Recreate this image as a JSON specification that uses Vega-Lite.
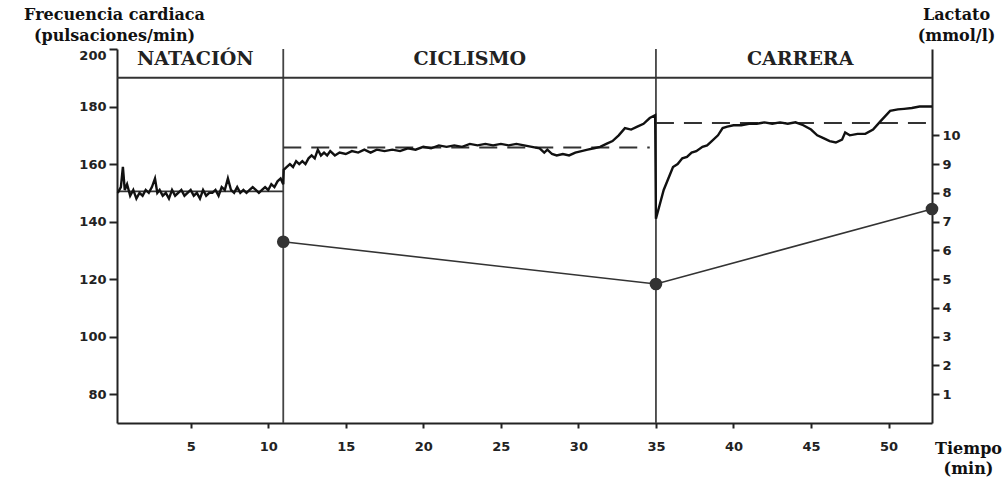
{
  "$schema": "https://vega.github.io/schema/vega-lite/v6.json",
  "width": 815,
  "height": 374,
  "autosize": {"type": "none"},
  "padding": {"left": 117, "top": 49, "right": 71, "bottom": 54},
  "background": "white",
  "config": {
    "view": {"stroke": null},
    "axis": {
      "grid": false,
      "domainColor": "#222",
      "domainWidth": 2,
      "tickColor": "#222",
      "tickWidth": 2,
      "labelFont": "DejaVu Sans",
      "labelFontWeight": "bold",
      "labelFontSize": 13,
      "labelColor": "#222",
      "titleFont": "DejaVu Serif",
      "titleFontWeight": "bold",
      "titleFontSize": 16,
      "titleColor": "#111"
    }
  },
  "datasets": {
    "hr": [
      {"min": 0.3, "bpm": 150}, {"min": 0.5, "bpm": 152}, {"min": 0.63, "bpm": 159}, {"min": 0.75, "bpm": 151},
      {"min": 0.9, "bpm": 153}, {"min": 1.1, "bpm": 149}, {"min": 1.3, "bpm": 151}, {"min": 1.5, "bpm": 148},
      {"min": 1.7, "bpm": 150}, {"min": 1.9, "bpm": 149}, {"min": 2.1, "bpm": 151}, {"min": 2.3, "bpm": 150},
      {"min": 2.5, "bpm": 152}, {"min": 2.7, "bpm": 155}, {"min": 2.85, "bpm": 150}, {"min": 3.0, "bpm": 151},
      {"min": 3.2, "bpm": 149}, {"min": 3.4, "bpm": 150}, {"min": 3.6, "bpm": 148}, {"min": 3.8, "bpm": 151},
      {"min": 4.0, "bpm": 149}, {"min": 4.2, "bpm": 150}, {"min": 4.4, "bpm": 151}, {"min": 4.6, "bpm": 149},
      {"min": 4.8, "bpm": 150}, {"min": 5.0, "bpm": 151}, {"min": 5.2, "bpm": 149}, {"min": 5.4, "bpm": 150},
      {"min": 5.6, "bpm": 148}, {"min": 5.8, "bpm": 151}, {"min": 6.0, "bpm": 149}, {"min": 6.2, "bpm": 150},
      {"min": 6.4, "bpm": 150}, {"min": 6.6, "bpm": 151}, {"min": 6.8, "bpm": 149}, {"min": 7.0, "bpm": 152},
      {"min": 7.2, "bpm": 151}, {"min": 7.4, "bpm": 155}, {"min": 7.6, "bpm": 151}, {"min": 7.8, "bpm": 150},
      {"min": 8.0, "bpm": 152}, {"min": 8.2, "bpm": 150}, {"min": 8.4, "bpm": 151}, {"min": 8.6, "bpm": 150},
      {"min": 8.8, "bpm": 151}, {"min": 9.0, "bpm": 152}, {"min": 9.2, "bpm": 151}, {"min": 9.4, "bpm": 150},
      {"min": 9.6, "bpm": 151}, {"min": 9.8, "bpm": 152}, {"min": 10.0, "bpm": 151}, {"min": 10.2, "bpm": 153},
      {"min": 10.4, "bpm": 152}, {"min": 10.6, "bpm": 154}, {"min": 10.8, "bpm": 155}, {"min": 10.97, "bpm": 153},
      {"min": 11.0, "bpm": 158}, {"min": 11.2, "bpm": 159}, {"min": 11.4, "bpm": 160}, {"min": 11.6, "bpm": 159},
      {"min": 11.8, "bpm": 161}, {"min": 12.0, "bpm": 160}, {"min": 12.2, "bpm": 161}, {"min": 12.4, "bpm": 160},
      {"min": 12.6, "bpm": 162}, {"min": 12.8, "bpm": 163}, {"min": 13.0, "bpm": 162}, {"min": 13.2, "bpm": 165},
      {"min": 13.4, "bpm": 163}, {"min": 13.6, "bpm": 164}, {"min": 13.8, "bpm": 163}, {"min": 14.0, "bpm": 164.5},
      {"min": 14.3, "bpm": 163}, {"min": 14.6, "bpm": 164}, {"min": 15.0, "bpm": 163.5}, {"min": 15.4, "bpm": 164.5},
      {"min": 15.8, "bpm": 164}, {"min": 16.2, "bpm": 165}, {"min": 16.6, "bpm": 164}, {"min": 17.0, "bpm": 165},
      {"min": 17.5, "bpm": 164.5}, {"min": 18.0, "bpm": 165}, {"min": 18.5, "bpm": 164.5}, {"min": 19.0, "bpm": 165.5},
      {"min": 19.5, "bpm": 165}, {"min": 20.0, "bpm": 166}, {"min": 20.5, "bpm": 165.5}, {"min": 21.0, "bpm": 166.5},
      {"min": 21.5, "bpm": 166}, {"min": 22.0, "bpm": 166.5}, {"min": 22.5, "bpm": 166}, {"min": 23.0, "bpm": 167},
      {"min": 23.5, "bpm": 166.5}, {"min": 24.0, "bpm": 167}, {"min": 24.5, "bpm": 166.5}, {"min": 25.0, "bpm": 167},
      {"min": 25.5, "bpm": 166.5}, {"min": 26.0, "bpm": 167}, {"min": 26.5, "bpm": 166.5}, {"min": 27.0, "bpm": 166},
      {"min": 27.5, "bpm": 165.5}, {"min": 27.8, "bpm": 164}, {"min": 28.0, "bpm": 165}, {"min": 28.3, "bpm": 163.5},
      {"min": 28.6, "bpm": 163}, {"min": 29.0, "bpm": 163.5}, {"min": 29.4, "bpm": 163}, {"min": 29.8, "bpm": 164},
      {"min": 30.2, "bpm": 164.5}, {"min": 30.6, "bpm": 165}, {"min": 31.0, "bpm": 165.5}, {"min": 31.4, "bpm": 166},
      {"min": 31.8, "bpm": 167}, {"min": 32.2, "bpm": 168}, {"min": 32.6, "bpm": 170}, {"min": 33.0, "bpm": 172.5},
      {"min": 33.4, "bpm": 172}, {"min": 33.8, "bpm": 173}, {"min": 34.2, "bpm": 174}, {"min": 34.6, "bpm": 176},
      {"min": 34.95, "bpm": 177},
      {"min": 35.0, "bpm": 141}, {"min": 35.2, "bpm": 145}, {"min": 35.5, "bpm": 151}, {"min": 35.8, "bpm": 155},
      {"min": 36.1, "bpm": 159}, {"min": 36.4, "bpm": 160}, {"min": 36.7, "bpm": 162}, {"min": 37.0, "bpm": 162.5},
      {"min": 37.3, "bpm": 164}, {"min": 37.6, "bpm": 164.5}, {"min": 38.0, "bpm": 166}, {"min": 38.3, "bpm": 166.5},
      {"min": 38.6, "bpm": 168}, {"min": 39.0, "bpm": 170}, {"min": 39.3, "bpm": 172.5}, {"min": 39.6, "bpm": 173},
      {"min": 40.0, "bpm": 173.5}, {"min": 40.5, "bpm": 173.5}, {"min": 41.0, "bpm": 174}, {"min": 41.5, "bpm": 174},
      {"min": 42.0, "bpm": 174.5}, {"min": 42.5, "bpm": 174}, {"min": 43.0, "bpm": 174.5}, {"min": 43.5, "bpm": 174},
      {"min": 44.0, "bpm": 174.5}, {"min": 44.5, "bpm": 173.5}, {"min": 45.0, "bpm": 172}, {"min": 45.4, "bpm": 170},
      {"min": 45.8, "bpm": 169}, {"min": 46.2, "bpm": 168}, {"min": 46.6, "bpm": 167.5}, {"min": 47.0, "bpm": 168.5},
      {"min": 47.2, "bpm": 171}, {"min": 47.5, "bpm": 170}, {"min": 48.0, "bpm": 170.5}, {"min": 48.5, "bpm": 170.5},
      {"min": 49.0, "bpm": 172}, {"min": 49.5, "bpm": 175}, {"min": 50.1, "bpm": 178.5}, {"min": 50.6, "bpm": 179},
      {"min": 51.0, "bpm": 179.2}, {"min": 51.5, "bpm": 179.5}, {"min": 52.0, "bpm": 180}, {"min": 52.5, "bpm": 180},
      {"min": 52.8, "bpm": 180}
    ],
    "lactate": [
      {"min": 10.97, "lactato": 6.3},
      {"min": 35.0, "lactato": 4.83},
      {"min": 52.8, "lactato": 7.44}
    ],
    "phases": [
      {"label": "NATACIÓN", "min": 5.3, "bpm": 196.5},
      {"label": "CICLISMO", "min": 23.0, "bpm": 196.5},
      {"label": "CARRERA", "min": 44.3, "bpm": 196.5}
    ],
    "transitions": [{"min": 10.97}, {"min": 35.0}],
    "threshold_swim": [{"min": 0.25, "min2": 10.97, "bpm": 150.5}],
    "threshold_other": [
      {"min": 10.97, "min2": 34.6, "bpm": 165.8},
      {"min": 35.0, "min2": 52.8, "bpm": 174.3}
    ]
  },
  "layer": [
    {
      "layer": [
        {
          "data": {"name": "transitions"},
          "mark": {"type": "rule", "color": "#444", "strokeWidth": 1.8},
          "encoding": {
            "x": {"field": "min", "type": "quantitative"},
            "y": {"datum": 70, "type": "quantitative"},
            "y2": {"datum": 200}
          }
        },
        {
          "data": {"values": [{"bpm": 190}]},
          "mark": {"type": "rule", "color": "#333", "strokeWidth": 2},
          "encoding": {
            "y": {"field": "bpm", "type": "quantitative"}
          }
        },
        {
          "data": {"name": "threshold_swim"},
          "mark": {"type": "rule", "color": "#333", "strokeWidth": 1.8},
          "encoding": {
            "x": {"field": "min", "type": "quantitative"},
            "x2": {"field": "min2"},
            "y": {"field": "bpm", "type": "quantitative"}
          }
        },
        {
          "data": {"name": "threshold_other"},
          "mark": {"type": "rule", "color": "#333", "strokeWidth": 2, "strokeDash": [18, 10]},
          "encoding": {
            "x": {"field": "min", "type": "quantitative"},
            "x2": {"field": "min2"},
            "y": {"field": "bpm", "type": "quantitative"}
          }
        },
        {
          "data": {"name": "hr"},
          "mark": {"type": "line", "color": "#111", "strokeWidth": 2.4},
          "encoding": {
            "x": {
              "field": "min",
              "type": "quantitative",
              "scale": {"domain": [0.25, 52.8], "nice": false, "zero": false},
              "axis": {
                "values": [5, 10, 15, 20, 25, 30, 35, 40, 45, 50],
                "tickSize": 5,
                "labelPadding": 12,
                "title": ["Tiempo", "(min)"],
                "titleAngle": 0,
                "titleAlign": "center",
                "titleBaseline": "top",
                "titleX": 851,
                "titleY": 17,
                "titleLineHeight": 20
              }
            },
            "y": {
              "field": "bpm",
              "type": "quantitative",
              "scale": {"domain": [70, 200], "nice": false, "zero": false},
              "axis": {
                "values": [80, 100, 120, 140, 160, 180, 200],
                "tickSize": 8,
                "labelPadding": 3,
                "labelBaseline": {"condition": {"test": "datum.value == 200", "value": "top"}, "value": "middle"},
                "title": ["Frecuencia cardiaca", "(pulsaciones/min)"],
                "titleAngle": 0,
                "titleAlign": "center",
                "titleBaseline": "top",
                "titleX": -3,
                "titleY": -43,
                "titleLineHeight": 21
              }
            }
          }
        },
        {
          "data": {"name": "phases"},
          "mark": {"type": "text", "font": "DejaVu Serif", "fontWeight": "bold", "fontSize": 19, "color": "#222", "baseline": "middle", "align": "center"},
          "encoding": {
            "x": {"field": "min", "type": "quantitative"},
            "y": {"field": "bpm", "type": "quantitative"},
            "text": {"field": "label"}
          }
        }
      ]
    },
    {
      "data": {"name": "lactate"},
      "layer": [
        {
          "mark": {"type": "line", "color": "#333", "strokeWidth": 1.6},
          "encoding": {
            "x": {"field": "min", "type": "quantitative"},
            "y": {
              "field": "lactato",
              "type": "quantitative",
              "scale": {"domain": [0, 13], "nice": false},
              "axis": {
                "orient": "right",
                "values": [1, 2, 3, 4, 5, 6, 7, 8, 9, 10],
                "tickSize": 7,
                "labelPadding": 3,
                "title": ["Lactato", "(mmol/l)"],
                "titleAngle": 0,
                "titleAlign": "center",
                "titleBaseline": "top",
                "titleX": 24,
                "titleY": -43,
                "titleLineHeight": 21
              }
            }
          }
        },
        {
          "mark": {"type": "point", "filled": true, "shape": "circle", "size": 160, "color": "#333", "opacity": 1},
          "encoding": {
            "x": {"field": "min", "type": "quantitative"},
            "y": {"field": "lactato", "type": "quantitative"}
          }
        }
      ]
    }
  ],
  "resolve": {"scale": {"y": "independent"}}
}
